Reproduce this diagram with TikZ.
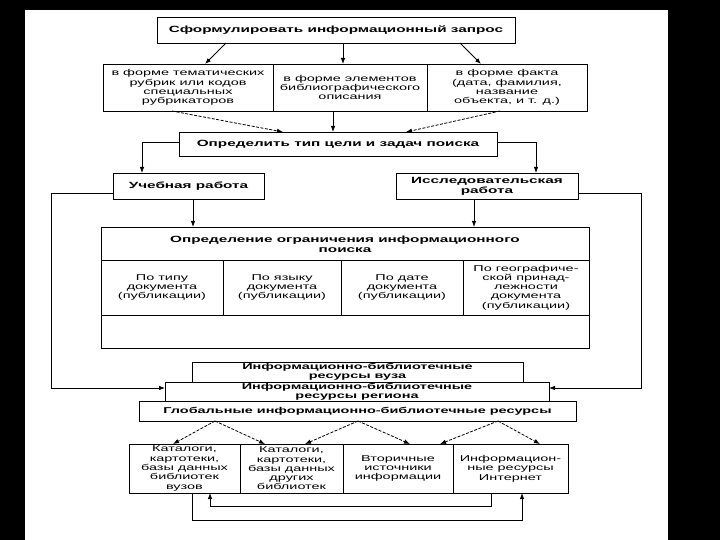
\documentclass[tikz,border=0pt]{standalone}
\usepackage{fontspec}
\newfontfamily\scanfont{Liberation Sans}[FakeStretch=1.7]
\usetikzlibrary{arrows.meta}

\begin{document}
\begin{tikzpicture}[x=1pt,y=-1pt,
  box/.style={draw,line width=0.8pt,inner sep=0pt,outer sep=0pt,fill=white},
  txt/.style={align=center,font=\scanfont\fontsize{8.5}{9.3}\selectfont},
  bold/.style={align=center,font=\scanfont\bfseries\fontsize{9}{10}\selectfont},
  res/.style={align=center,font=\scanfont\bfseries\fontsize{8.5}{8.8}\selectfont},
  arr/.style={line width=0.8pt,-{Latex[length=6pt,width=4.5pt]}},
  dasharr/.style={arr,dash pattern=on 3pt off 1.5pt}]
  \fill[black] (0,0) rectangle (720,540); % scan edges
  \fill[white] (25,10) rectangle (668,540);
  \node[box,bold,minimum width=358pt,minimum height=26pt] (ask) at (336,30) {Сформулировать информационный запрос};
  \node[box,txt,minimum width=170pt,minimum height=47pt] (form1) at (188,87.5) {в форме тематических\\рубрик или кодов\\специальных\\рубрикаторов};
  \node[box,txt,minimum width=154pt,minimum height=47pt] (form2) at (350,87.5) {в форме элементов\\библиографического\\описания};
  \node[box,txt,minimum width=160pt,minimum height=47pt] (form3) at (507,87.5) {в форме факта\\(дата, фамилия,\\название\\объекта, и т. д.)};
  \node[box,bold,minimum width=318pt,minimum height=24pt] (goal) at (338,144) {Определить тип цели и задач поиска};
  \node[box,bold,minimum width=151pt,minimum height=26pt] (study) at (188.5,186) {Учебная работа};
  \node[box,bold,minimum width=182pt,minimum height=26pt] (research) at (487,186) {Исследовательская\\работа};
  \node[box,minimum width=488pt,minimum height=121pt] (limits) at (345,287.5) {};
  \node[bold] (limhead) at (345,244) {Определение ограничения информационного\\поиска};
  \foreach \cx/\w/\t [count=\i] in {162/122/{По типу\\документа\\(публикации)},
      282/118/{По языку\\документа\\(публикации)}, 402/122/{По дате\\документа\\(публикации)},
      526/126/{По географиче-\\ской принад-\\лежности\\документа\\(публикации)}} % limit cells
    \node[box,txt,minimum width=\w,minimum height=55pt] (lim\i) at (\cx,287.5) {\t};
  \node[box,res,minimum width=331pt,minimum height=20pt] (uni) at (357.5,372) {Информационно-библиотечные\\ресурсы вуза};
  \node[box,res,minimum width=384pt,minimum height=19pt] (region) at (357,391.5) {Информационно-библиотечные\\ресурсы региона};
  \node[box,res,minimum width=437pt,minimum height=20pt] (global) at (357.5,411) {Глобальные информационно-библиотечные ресурсы};
  \foreach \cx/\w/\t [count=\i] in {184.5/111/{Каталоги,\\картотеки,\\базы данных\\библиотек\\вузов},
      291.5/103/{Каталоги,\\картотеки,\\базы данных\\других\\библиотек}, 398/110/{Вторичные\\источники\\информации},
      510.5/115/{Информацион-\\ные ресурсы\\Интернет}} % sources
    \node[box,txt,minimum width=\w,minimum height=49pt] (cat\i) at (\cx,468.5) {\t};
  % request and its forms
  \draw[arr] ([xshift=-110pt]ask.south) -- ([xshift=17pt]form1.north);
  \draw[arr] ([xshift=7pt]ask.south) -- ([xshift=-7pt]form2.north);
  \draw[arr] ([xshift=124pt]ask.south) -- ([xshift=-26pt]form3.north);
  \draw[dasharr] ([xshift=-16pt]form1.south) -- ([xshift=-55pt]goal.north);
  \draw[arr] ([xshift=-17pt]form2.south) -- ([xshift=-5pt]goal.north);
  \draw[dasharr] ([xshift=-7pt]form3.south) -- ([xshift=68pt]goal.north);
  % kind of work
  \draw[arr] ([yshift=2pt]goal.west) -| ([xshift=-46.5pt]study.north);
  \draw[arr] ([yshift=2pt]goal.east) -| ([xshift=49pt]research.north);
  \coordinate (studyfoot) at ([xshift=4.5pt]study.south);
  \coordinate (resfoot) at ([xshift=-13pt]research.south);
  \draw[arr] (studyfoot) -- (studyfoot |- limits.north);
  \draw[arr] (resfoot) -- (resfoot |- limits.north);
  \draw[arr] ([yshift=-7pt]study.west) -- ++(-62,0) |- ([yshift=3.5pt]region.west);
  \draw[arr] ([yshift=-7pt]research.east) -- ++(63,0) |- ([yshift=3.5pt]region.east);
  % global resources to sources
  \coordinate (ga) at ([xshift=-142.5pt]global.south);
  \coordinate (gb) at ([xshift=0.5pt]global.south);
  \coordinate (gc) at ([xshift=140.5pt]global.south);
  \foreach \from/\to/\dx in {ga/cat1/-11.5, ga/cat2/-26.5, gb/cat2/13.5, gb/cat3/12, gc/cat3/42, gc/cat4/29.5}
    \draw[dasharr] (\from) -- ([xshift=\dx pt]\to.north);
  % back links under the sources
  \draw[arr] ([xshift=93pt]cat3.south) -- ++(0,13) -| ([xshift=25.5pt]cat1.south);
  \draw[arr] ([xshift=7.5pt]cat1.south) -- ++(0,27) -| ([xshift=11.5pt]cat4.south);
\end{tikzpicture}
\end{document}
